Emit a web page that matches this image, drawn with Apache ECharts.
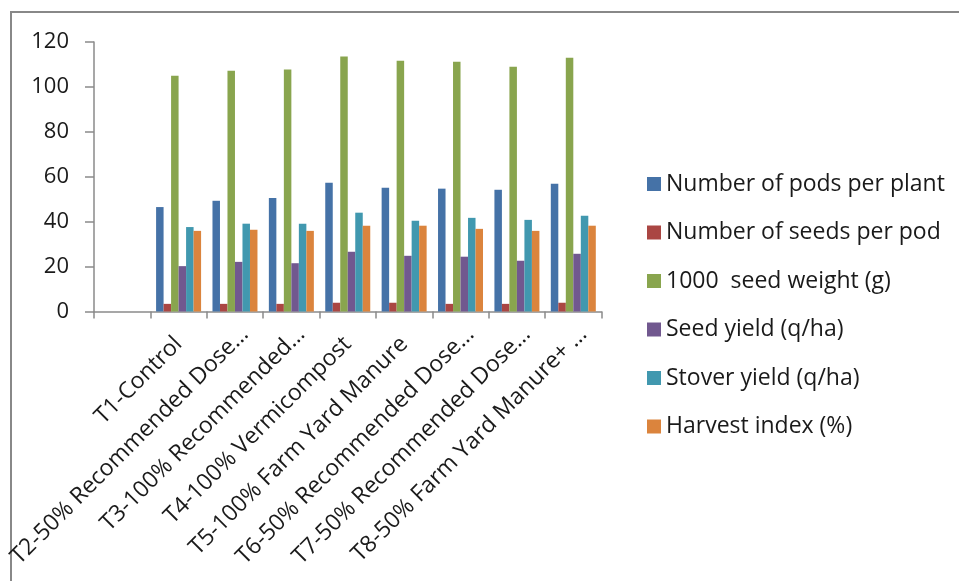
<!DOCTYPE html>
<html>
<head>
<meta charset="utf-8">
<script src="https://cdn.jsdelivr.net/npm/echarts@6/dist/echarts.min.js"></script>
<style>
  html, body { margin: 0; padding: 0; background: #ffffff; }
  #chart { width: 959px; height: 581px; }
</style>
</head>
<body>
<div id="chart"></div>
<script>
// Treatments (first slot left empty on the axis)
const categories = [
  '',
  'T1-Control',
  'T2-50% Recommended Dose…',
  'T3-100% Recommended…',
  'T4-100% Vermicompost',
  'T5-100% Farm Yard Manure',
  'T6-50% Recommended Dose…',
  'T7-50% Recommended Dose…',
  'T8-50% Farm Yard Manure+ …'
];

const seriesNames = [
  'Number of pods per plant',
  'Number of seeds per pod',
  '1000  seed weight (g)',
  'Seed yield (q/ha)',
  'Stover yield (q/ha)',
  'Harvest index (%)'
];

const podsPerPlant   = [null, 46.5, 49.3, 50.5, 57.3, 55.1, 54.7, 54.2, 56.9];
const seedsPerPod    = [null, 3.4, 3.4, 3.4, 3.9, 3.9, 3.4, 3.4, 3.9];
const seedWeight     = [null, 105.0, 107.2, 107.7, 113.5, 111.7, 111.2, 109.0, 113.0];
const seedYield      = [null, 20.2, 22.1, 21.5, 26.6, 24.8, 24.4, 22.6, 25.7];
const stoverYield    = [null, 37.6, 39.1, 39.1, 44.0, 40.4, 41.7, 40.8, 42.6];
const harvestIndex   = [null, 35.9, 36.4, 35.9, 38.2, 38.2, 36.8, 35.9, 38.2];

const yTicks = [0, 20, 40, 60, 80, 100, 120];

const colors = ['#4572A7', '#AA4643', '#89A54E', '#71588F', '#4198AF', '#DB843D'];
const values = [podsPerPlant, seedsPerPod, seedWeight, seedYield, stoverYield, harvestIndex];

const FONT = '"Open Sans", Lato, sans-serif';
const TEXT = '#1a1a1a';
const AXIS = '#8a8a8a';

// truncated names sit a little further out along their slant
const axisCategories = categories.map(function (c) {
  if (c.slice(-1) === '…') {
    return { value: c, textStyle: { padding: [0, -14, 0, 0] } };
  }
  return c;
});

const chart = echarts.init(document.getElementById('chart'), null, { renderer: 'canvas' });

chart.setOption({
  backgroundColor: '#ffffff',
  animation: false,
  color: colors,
  textStyle: { fontFamily: FONT },
  graphic: [{
    type: 'rect',
    shape: { x: 11, y: 12, width: 960, height: 590 },
    style: { fill: 'none', stroke: '#888888', lineWidth: 2 },
    silent: true,
    z: -1
  }],
  grid: { left: 94, top: 42, width: 507.5, height: 269.5, containLabel: false },
  legend: {
    orient: 'vertical',
    left: 642,
    top: 167,
    itemWidth: 14,
    itemHeight: 14,
    itemGap: 24.5,
    icon: 'rect',
    textStyle: { fontFamily: FONT, fontSize: 23, color: TEXT, lineHeight: 24 },
    data: seriesNames
  },
  xAxis: {
    type: 'category',
    data: axisCategories,
    axisLine: { lineStyle: { color: AXIS, width: 1.5 } },
    axisTick: { show: true, length: 7, lineStyle: { color: AXIS, width: 1.5 } },
    axisLabel: {
      interval: 0,
      rotate: 45,
      margin: 29,
      fontFamily: FONT,
      fontSize: 23,
      color: TEXT
    },
    splitLine: { show: false }
  },
  yAxis: {
    type: 'value',
    min: 0,
    max: 120,
    interval: 20,
    axisLine: { show: true, lineStyle: { color: AXIS, width: 1.5 } },
    axisTick: { show: true, length: 9, lineStyle: { color: AXIS, width: 1.5 } },
    axisLabel: {
      margin: 25,
      fontFamily: FONT,
      fontSize: 22,
      color: TEXT,
      formatter: function (v) { return yTicks.indexOf(v) >= 0 ? String(v) : ''; }
    },
    splitLine: { show: false }
  },
  series: seriesNames.map(function (name, i) {
    return {
      name: name,
      type: 'bar',
      data: values[i],
      barWidth: 7.5,
      barGap: '0%',
      itemStyle: { color: colors[i] }
    };
  })
});
</script>
</body>
</html>
